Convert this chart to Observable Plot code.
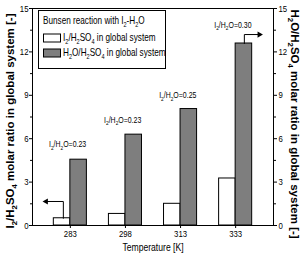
<!DOCTYPE html>
<html><head><meta charset="utf-8">
<script src="https://cdn.jsdelivr.net/npm/d3@7"></script>
<script src="https://cdn.jsdelivr.net/npm/@observablehq/plot@0.6"></script>
<style>
body{margin:0;background:#fff}
svg{display:block}
</style>
</head><body><div id="chart"></div>
<script>
// ---- data ----
const temperatures = ["283", "298", "313", "333"];
const i2Ratio = [0.5, 0.8, 1.5, 3.25];          // I2/H2SO4 (left axis)
const h2oRatio = [4.55, 6.28, 8.05, 12.58];     // H2O/H2SO4 (right axis)
const annotationLabels = ["I_2/H_2O=0.23", "I_2/H_2O=0.23", "I_2/H_2O=0.25", "I_2/H_2O=0.30"];
const annotationY = [5.6, 7.3, 9.0, 13.85];
const yTicks = [0, 3, 6, 9, 12, 15];
const yMinorTicks = [1.5, 4.5, 7.5, 10.5, 13.5];
const legendTitle = "Bunsen reaction with I_2-H_2O";
const seriesNames = ["I_2/H_2SO_4 in global system", "H_2O/H_2SO_4 in global system"];
const seriesFill = ["#ffffff", "#7e7e7e"];
const leftLabel = "I_2/H_2SO_4 molar ratio in global system [-]";
const rightLabel = "H_2O/H_2SO_4 molar ratio in global system [-]";
const xLabel = "Temperature [K]";
// arrow from the white 283 K bar to the left axis, and from the gray 333 K bar to the right axis
const leftArrowIndex = 0, leftArrowTop = 1.66;
const rightArrowIndex = 3, rightArrowTop = 13.2;

const SANS = "'Liberation Sans',Arial,sans-serif";
const idx = temperatures.map((d, i) => i);
const barW = 0.3; // bar width in category-step units

const leftArrowPath = [
  {x: leftArrowIndex - 0.127, y: i2Ratio[leftArrowIndex]},
  {x: leftArrowIndex - 0.127, y: leftArrowTop},
  {x: leftArrowIndex - 0.44, y: leftArrowTop}
];
const rightArrowPath = [
  {x: rightArrowIndex + 0.158, y: h2oRatio[rightArrowIndex]},
  {x: rightArrowIndex + 0.158, y: rightArrowTop},
  {x: rightArrowIndex + 0.43, y: rightArrowTop}
];

const plot = Plot.plot({
  width: 302, height: 254,
  marginLeft: 32, marginRight: 29, marginTop: 8, marginBottom: 29,
  style: {fontFamily: SANS, fontSize: "9.5px", color: "#000", background: "#fff"},
  x: {domain: [-0.687, 3.687]},
  y: {domain: [0, 15]},
  marks: [
    Plot.rectY(idx, {x1: i => i - barW, x2: i => i, y1: 0, y2: i2Ratio, fill: seriesFill[0], stroke: "#000", strokeWidth: 1}),
    Plot.rectY(idx, {x1: i => i, x2: i => i + barW, y1: 0, y2: h2oRatio, fill: seriesFill[1], stroke: "#000", strokeWidth: 1}),
    Plot.frame({stroke: "#000", strokeWidth: 1}),
    Plot.axisX({ticks: idx, tickFormat: i => temperatures[i], tickSize: 3, tickPadding: 2, label: null}),
    Plot.axisY({anchor: "left", ticks: yTicks, tickSize: 3, tickPadding: 1, label: null}),
    Plot.axisY({anchor: "left", ticks: yMinorTicks, tickSize: 2, tickFormat: () => "", label: null}),
    Plot.axisY({anchor: "right", ticks: yTicks, tickSize: 3, tickPadding: 2, label: null}),
    Plot.axisY({anchor: "right", ticks: yMinorTicks, tickSize: 2, tickFormat: () => "", label: null}),
    // annotations
    Plot.text(idx, {x: i => i - 0.05, y: annotationY, text: annotationLabels, fontSize: 8.5}),
    // arrows
    Plot.line(leftArrowPath, {x: "x", y: "y", stroke: "#000", strokeWidth: 1}),
    Plot.dot([leftArrowPath[2]], {x: "x", y: "y", symbol: "triangle", rotate: -90, r: 2.3, fill: "#000"}),
    Plot.line(rightArrowPath, {x: "x", y: "y", stroke: "#000", strokeWidth: 1}),
    Plot.dot([rightArrowPath[2]], {x: "x", y: "y", symbol: "triangle", rotate: 90, r: 2.3, fill: "#000"}),
    // x axis title
    Plot.text([xLabel], {frameAnchor: "bottom", textAnchor: "middle", lineAnchor: "middle", text: d => d, dy: 22.5, fontSize: 10.5})
  ]
});
document.getElementById("chart").append(plot);

const svg = d3.select(plot);
// ---- rotated axis titles ----
svg.append("text").attr("class", "ytitle").attr("text-anchor", "middle").attr("font-family", SANS).attr("font-weight", "bold").attr("font-size", 11.5)
  .attr("dy", "0.35em").attr("transform", "translate(10,121) rotate(-90)").text(leftLabel);
svg.append("text").attr("class", "ytitle").attr("text-anchor", "middle").attr("font-family", SANS).attr("font-weight", "bold").attr("font-size", 11.5)
  .attr("dy", "0.35em").attr("transform", "translate(295.5,124) rotate(90)").text(rightLabel);

// ---- legend (inside frame, top-left) ----
const lg = svg.append("g").attr("font-family", SANS).attr("font-size", 10).attr("fill", "#000").attr("text-anchor", "start");
lg.append("rect").attr("x", 38.5).attr("y", 10.5).attr("width", 127).attr("height", 58).attr("fill", "#fff").attr("stroke", "#000");
lg.append("text").attr("x", 43).attr("y", 21).attr("dy", "0.35em").text(legendTitle);
seriesNames.forEach((name, i) => {
  const yc = i === 0 ? 38 : 53;
  lg.append("rect").attr("x", 43.5).attr("y", yc - 4).attr("width", 17).attr("height", 8).attr("fill", seriesFill[i]).attr("stroke", "#000");
  lg.append("text").attr("x", 63).attr("y", yc).attr("dy", "0.35em").text(name);
});

// ---- subscripts: "_x" -> subscript tspan ----
const NS = "http://www.w3.org/2000/svg";
plot.querySelectorAll("text").forEach(el => {
  const s = el.textContent;
  if (!s.includes("_")) return;
  const fs = parseFloat(getComputedStyle(el).fontSize) || 10;
  const shift = fs * 0.3;
  el.textContent = "";
  const parts = s.split(/_(\w)/);
  let down = false;
  parts.forEach((p, i) => {
    if (!p) return;
    const t = document.createElementNS(NS, "tspan");
    t.textContent = p;
    if (i % 2 === 1) {
      t.setAttribute("font-size", (fs * 0.68).toFixed(2));
      if (!down) { t.setAttribute("dy", shift.toFixed(2)); down = true; }
    } else if (down) {
      t.setAttribute("dy", (-shift).toFixed(2)); down = false;
    }
    el.appendChild(t);
  });
});

// ---- horizontal texts in the reference are condensed: squeeze them about their anchor ----
plot.querySelectorAll("text").forEach(el => {
  if (el.classList.contains("ytitle")) return;
  const x = parseFloat(el.getAttribute("x")) || 0;
  const tr = el.getAttribute("transform") || "";
  el.setAttribute("transform", `${tr} translate(${x},0) scale(0.82,1) translate(${-x},0)`.trim());
});
</script>
</body></html>
